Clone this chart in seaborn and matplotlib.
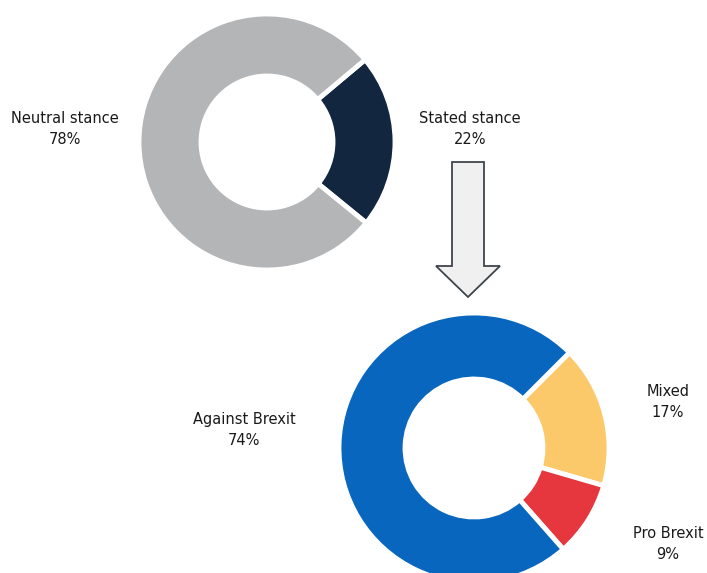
import matplotlib
matplotlib.use("Agg")
import matplotlib.pyplot as plt
from matplotlib.patches import Polygon
import seaborn as sns

sns.set_theme(style="white")
plt.rcParams['font.family'] = ['DejaVu Sans']

# 데이터
stance_labels = ['Stated stance', 'Neutral stance']
stance_values = [22, 78]
stance_colors = ['#12263F', '#B4B5B7']

brexit_labels = ['Mixed', 'Pro Brexit', 'Against Brexit']
brexit_values = [17, 9, 74]
brexit_colors = ['#FCC96A', '#E5373D', '#0866BE']

W, H = 707, 573
fig = plt.figure(figsize=(W / 100, H / 100), dpi=100)
ax = fig.add_axes([0, 0, 1, 1])
ax.set_xlim(0, W)
ax.set_ylim(0, H)
ax.set_aspect('equal')
ax.axis('off')

# 위쪽 도넛
ax.pie(stance_values, colors=stance_colors, startangle=40, counterclock=False,
       center=(267, H - 142), radius=128,
       wedgeprops=dict(width=62, edgecolor='white', linewidth=3.5))

# 아래쪽 도넛
ax.pie(brexit_values, colors=brexit_colors, startangle=45, counterclock=False,
       center=(474, H - 448), radius=135,
       wedgeprops=dict(width=66, edgecolor='white', linewidth=3.5))
ax.set_xlim(0, W)
ax.set_ylim(0, H)

# 화살표
arrow = [(452, 162), (484, 162), (484, 266), (500, 266), (468, 297),
         (436, 266), (452, 266)]
ax.add_patch(Polygon([(x, H - y) for x, y in arrow], closed=True,
                     facecolor='#F0F0F0', edgecolor='#3F444C', linewidth=1.3))

# 라벨
fs = 10.5
def label(x, y, name, val):
    ax.text(x, H - y, f'{name}\n{val}%', ha='center', va='center',
            fontsize=fs, color='#1a1a1a', linespacing=1.45)

label(65, 129, stance_labels[1], stance_values[1])
label(470, 129, stance_labels[0], stance_values[0])
label(244, 430, brexit_labels[2], brexit_values[2])
label(668, 402, brexit_labels[0], brexit_values[0])
label(668, 544, brexit_labels[1], brexit_values[1])

fig.savefig('out.png', dpi=100, facecolor='white')
